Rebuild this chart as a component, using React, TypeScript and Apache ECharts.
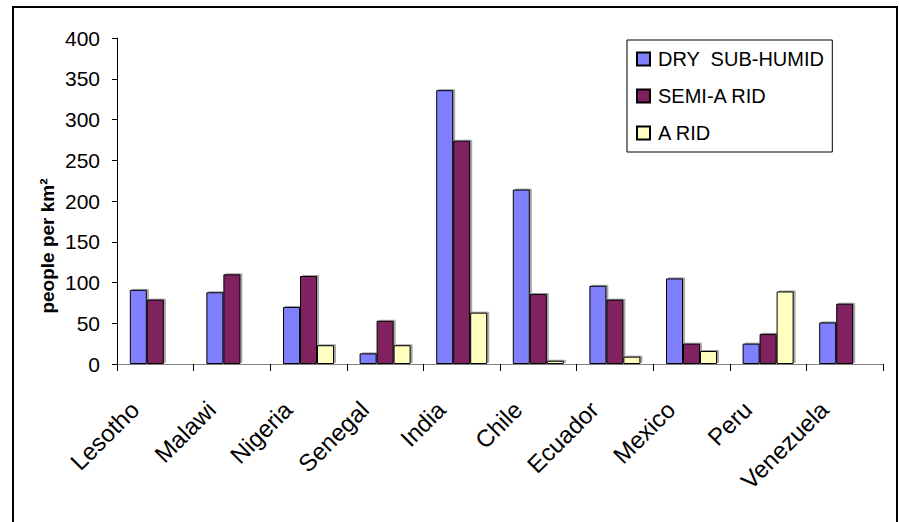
import React, { useEffect, useRef } from "react";
import * as echarts from "echarts";

const categories = ["Lesotho", "Malawi", "Nigeria", "Senegal", "India", "Chile", "Ecuador", "Mexico", "Peru", "Venezuela"];
const drySubHumid = [91, 88, 70, 13, 336, 214, 96, 105, 25, 51];
const semiArid = [79, 110, 108, 53, 274, 86, 79, 25, 37, 74];
const arid: (number | null)[] = [null, null, 23, 23, 63, 4, 9, 16, 89, null];
const yTicks = { min: 0, max: 400, interval: 50 };
const seriesNames = ["DRY  SUB-HUMID", "SEMI-A RID", "A RID"];
const yAxisTitle = "people per km²";

const FONT = "'Liberation Sans', Arial, sans-serif";

export default function App() {
  const ref = useRef<HTMLDivElement>(null);
  useEffect(() => {
    if (!ref.current) return;
    const chart = echarts.init(ref.current, null, { renderer: "svg" });
    const itemBase = {
      borderColor: "#000",
      borderWidth: 1,
      shadowColor: "rgba(0,0,0,0.35)",
      shadowOffsetX: 2,
      shadowOffsetY: -1,
      shadowBlur: 0,
    };
    const colors = ["#8080ff", "#802060", "#ffffc0"];
    const datas = [drySubHumid, semiArid, arid];
    chart.setOption({
      animation: false,
      backgroundColor: "#fff",
      textStyle: { fontFamily: FONT },
      grid: { left: 117, right: 16, top: 38, bottom: 158, containLabel: false },
      legend: {
        orient: "vertical",
        left: 627,
        top: 40,
        width: 204,
        padding: [9, 8, 9, 9],
        itemGap: 17,
        itemWidth: 13,
        itemHeight: 13,
        borderColor: "#000",
        borderWidth: 1,
        icon: "rect",
        selectedMode: false,
        textStyle: { fontSize: 20, color: "#000", fontFamily: FONT, padding: [0, 0, 0, 3] },
        data: seriesNames,
      },
      xAxis: {
        type: "category",
        data: categories,
        axisLine: { lineStyle: { color: "#808080", width: 1 } },
        axisTick: { show: true, length: 7, lineStyle: { color: "#000" }, alignWithLabel: false },
        axisLabel: {
          interval: 0,
          rotate: 45,
          margin: 21,
          padding: [0, 29, 0, 0],
          fontSize: 24,
          color: "#000",
          fontFamily: FONT,
        },
        splitLine: { show: false },
      },
      yAxis: {
        type: "value",
        min: yTicks.min,
        max: yTicks.max,
        interval: yTicks.interval,
        axisLine: { show: true, lineStyle: { color: "#000", width: 1 } },
        axisTick: { show: true, length: 5, lineStyle: { color: "#000" } },
        axisLabel: { fontSize: 21, color: "#000", margin: 17, fontFamily: FONT },
        splitLine: { show: false },
      },
      series: seriesNames.map((name, i) => ({
        name,
        type: "bar",
        data: datas[i],
        barWidth: 17,
        barGap: "0%",
        itemStyle: { ...itemBase, color: colors[i] },
      })),
      graphic: [
        {
          type: "text",
          x: 47,
          y: 246,
          rotation: Math.PI / 2,
          style: {
            text: yAxisTitle,
            fontSize: 19,
            fontWeight: "bold",
            fontFamily: FONT,
            fill: "#000",
            align: "center",
            verticalAlign: "middle",
          },
        },
        { type: "line", shape: { x1: 12, y1: 7, x2: 898, y2: 7 }, style: { stroke: "#000", lineWidth: 2 } },
        { type: "line", shape: { x1: 13, y1: 6, x2: 13, y2: 522 }, style: { stroke: "#000", lineWidth: 2 } },
        { type: "line", shape: { x1: 897, y1: 6, x2: 897, y2: 522 }, style: { stroke: "#000", lineWidth: 2 } },
      ],
    });
    return () => chart.dispose();
  }, []);
  return (
    <div
      ref={ref}
      style={{ position: "fixed", left: 0, top: 0, width: 899, height: 522 }}
    />
  );
}
